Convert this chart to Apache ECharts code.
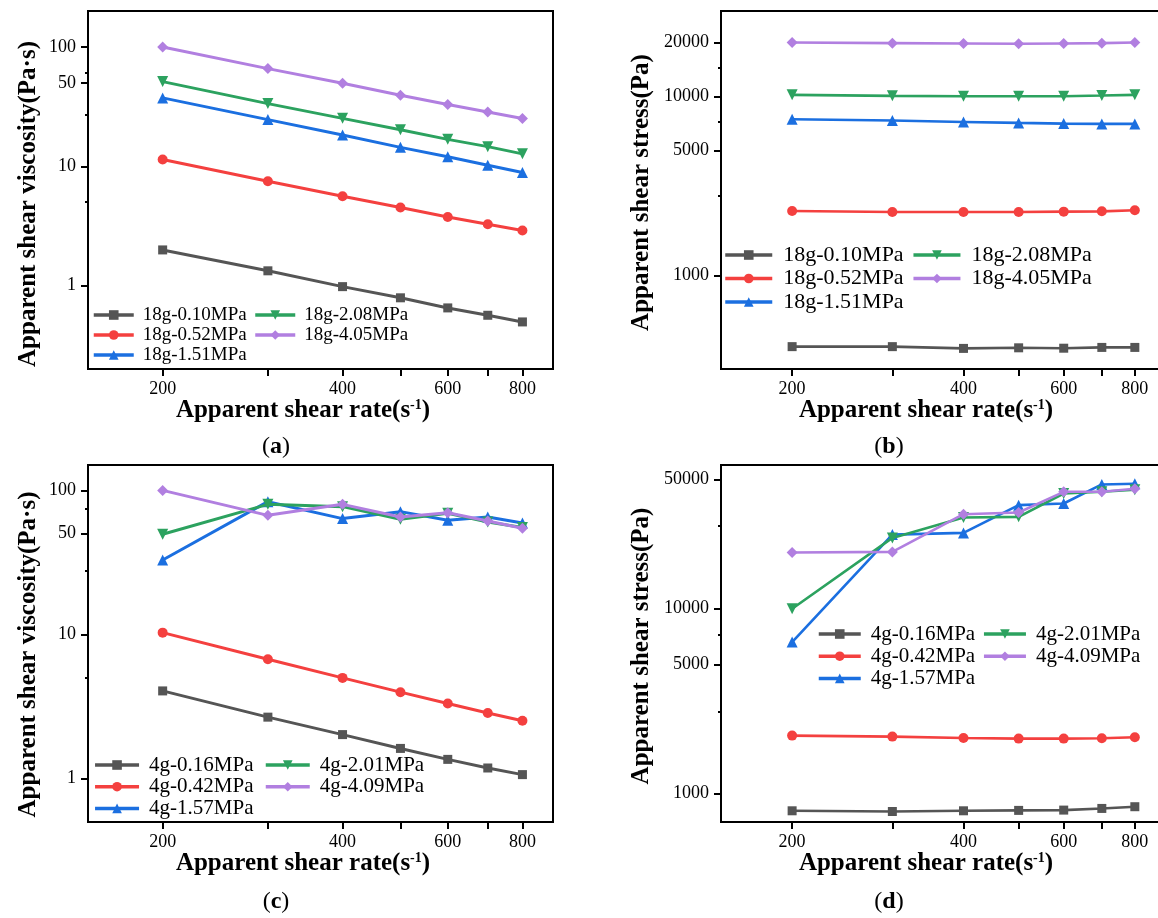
<!DOCTYPE html>
<html><head><meta charset="utf-8">
<script src="https://cdn.jsdelivr.net/npm/echarts@6/dist/echarts.min.js"></script>
<style>html,body{margin:0;padding:0;background:#fff}#c{width:1158px;height:918px}</style>
</head><body><div id="c"></div>
<script>
// ---------- data ----------
const shearRates = [200, 300, 400, 500, 600, 700, 800];
const xTickValues = [200, 300, 400, 500, 600, 700, 800];
const xLabelValues = [200, 400, 600, 800];

const namesA = ['18g-0.10MPa', '18g-0.52MPa', '18g-1.51MPa', '18g-2.08MPa', '18g-4.05MPa'];
const namesC = ['4g-0.16MPa', '4g-0.42MPa', '4g-1.57MPa', '4g-2.01MPa', '4g-4.09MPa'];

// (a) apparent shear viscosity, 18 g
const viscA_010 = [1.99, 1.33, 0.98, 0.79, 0.65, 0.564, 0.496];
const viscA_052 = [11.4, 7.48, 5.61, 4.51, 3.76, 3.27, 2.89];
const viscA_151 = [37.4, 24.6, 18.3, 14.4, 12.0, 10.2, 8.85];
const viscA_208 = [51.2, 33.5, 25.2, 20.2, 16.8, 14.6, 12.7];
const viscA_405 = [100, 65.8, 49.6, 39.3, 32.9, 28.5, 25.1];

// (b) apparent shear stress, 18 g
const stressB_010 = [400, 400, 391, 394, 392, 396, 396];
const stressB_052 = [2290, 2262, 2262, 2262, 2271, 2280, 2310];
const stressB_151 = [7460, 7330, 7200, 7110, 7050, 7020, 7020];
const stressB_208 = [10200, 10070, 10025, 10025, 10025, 10110, 10200];
const stressB_405 = [20000, 19840, 19760, 19670, 19760, 19840, 20000];

// (c) apparent shear viscosity, 4 g
const viscC_016 = [4.06, 2.67, 2.02, 1.62, 1.36, 1.185, 1.066];
const viscC_042 = [10.3, 6.73, 5.00, 3.98, 3.32, 2.85, 2.52];
const viscC_157 = [32.9, 83.5, 63.7, 71.2, 62.0, 65.4, 59.4];
const viscC_201 = [49.6, 80.0, 77.1, 63.0, 69.3, 60.4, 55.2];
const viscC_409 = [100, 67.1, 80.0, 65.4, 70.0, 61.3, 54.6];

// (d) apparent shear stress, 4 g
const stressD_016 = [805, 798, 805, 809, 812, 829, 847];
const stressD_042 = [2055, 2030, 1996, 1980, 1980, 1988, 2013];
const stressD_157 = [6597, 25200, 25730, 36360, 37120, 47080, 47470];
const stressD_201 = [10000, 24170, 31170, 31430, 42050, 42950, 44030];
const stressD_409 = [20140, 20300, 32500, 33170, 42950, 42950, 44590];

// tick labels
const yMajorA = [1, 10, 50, 100];
const yMinorA = [5, 27, 61];
const yMajorB = [1000, 5000, 10000, 20000];
const yMinorB = [2780, 7200, 14500];
const yMajorC = [1, 10, 50, 100];
const yMinorC = [5, 27.6, 74];
const yMajorD = [1000, 5000, 10000, 50000];
const yMinorD = [2770, 7250, 28000];

const xTitle = '{t|Apparent shear rate(s}{s|-1}{t|)}';
const yTitleVisc = 'Apparent shear viscosity(Pa·s)';
const yTitleStress = 'Apparent shear stress(Pa)';
const panelLetters = ['a', 'b', 'c', 'd'];

// ---------- styling ----------
const FONT = "'Liberation Serif', 'Times New Roman', serif";
const colors = ['#555555', '#f4403f', '#1b6fe0', '#2ca25f', '#b17fe0'];
const symbols = ['rect', 'circle', 'triangle', 'triangle', 'diamond'];
const rotates = [0, 0, 0, 180, 0];
const sizes = [9, 10, 11, 11, 11];

const panels = [
  { grid: {left: 88, top: 11, width: 465, height: 358}, xMin: 150, xMax: 900, lw: 3,
    yMin: 0.2, yMax: 200, major: yMajorA, minor: yMinorA, yName: yTitleVisc, yGap: 47, yShift: 28, xShift: 35,
    names: namesA, series: [viscA_010, viscA_052, viscA_151, viscA_208, viscA_405],
    lg: {left1: 92, left2: 253.5, c1: 315, step: 20, font: 19, iw: 40, pad: 4},
    label: {x: 276, y: 447} },
  { grid: {left: 721, top: 11, width: 469, height: 358}, xMin: 150, xMax: 1000, lw: 2.6,
    yMin: 300, yMax: 30000, major: yMajorB, minor: yMinorB, yName: yTitleStress, yGap: 67, yShift: 5, xShift: 59,
    names: namesA, series: [stressB_010, stressB_052, stressB_151, stressB_208, stressB_405],
    lg: {left1: 723.5, left2: 911.7, c1: 255, step: 23.5, font: 22, iw: 47, pad: 6},
    label: {x: 889, y: 447} },
  { grid: {left: 88, top: 465, width: 465, height: 357}, xMin: 150, xMax: 900, lw: 3,
    yMin: 0.5, yMax: 150, major: yMajorC, minor: yMinorC, yName: yTitleVisc, yGap: 47, yShift: 22, xShift: 35,
    names: namesC, series: [viscC_016, viscC_042, viscC_157, viscC_201, viscC_409],
    lg: {left1: 93.3, left2: 264, c1: 765, step: 21.7, font: 21, iw: 44, pad: 5},
    label: {x: 276, y: 902} },
  { grid: {left: 721, top: 465, width: 469, height: 357}, xMin: 150, xMax: 1000, lw: 2.6,
    yMin: 700, yMax: 60000, major: yMajorD, minor: yMinorD, yName: yTitleStress, yGap: 67, yShift: 5, xShift: 59,
    names: namesC, series: [stressD_016, stressD_042, stressD_157, stressD_201, stressD_409],
    lg: {left1: 817, left2: 982.2, c1: 634, step: 22.2, font: 21, iw: 42, pad: 5},
    label: {x: 889, y: 902} }
];

const option = {
  animation: false,
  backgroundColor: '#fff',
  grid: [], xAxis: [], yAxis: [], series: [], legend: [], graphic: []
};

panels.forEach((p, i) => {
  option.grid.push(Object.assign({show: true, borderColor: '#000', borderWidth: 2, backgroundColor: 'transparent',
    outerBoundsMode: 'none', containLabel: false}, p.grid));
  option.xAxis.push({
    type: 'log', gridIndex: i, min: p.xMin, max: p.xMax, logBase: 10,
    name: xTitle, nameLocation: 'middle', nameGap: 29, nameMoveOverlap: false,
    nameTextStyle: {color: '#000', padding: [0, p.xShift, 0, 0],
      rich: {t: {fontFamily: FONT, fontWeight: 'bold', fontSize: 25, color: '#000'},
             s: {fontFamily: FONT, fontWeight: 'bold', fontSize: 14, color: '#000', verticalAlign: 'top'}}},
    axisLine: {show: true, onZero: false, lineStyle: {color: '#000', width: 2}},
    axisTick: {show: true, inside: false, length: 7, customValues: xTickValues, lineStyle: {color: '#000', width: 2}},
    axisLabel: {show: true, customValues: xLabelValues, margin: 11, fontFamily: FONT, fontSize: 18, color: '#000',
      formatter: v => String(v)},
    splitLine: {show: false}, minorTick: {show: false}
  });
  option.yAxis.push({
    type: 'log', gridIndex: i, position: 'left', min: p.yMin, max: p.yMax, logBase: 10,
    name: p.yName, nameLocation: 'middle', nameGap: p.yGap, nameMoveOverlap: false,
    nameTextStyle: {fontFamily: FONT, fontWeight: 'bold', fontSize: 25, color: '#000', padding: [0, p.yShift, 0, 0]},
    axisLine: {show: true, onZero: false, lineStyle: {color: '#000', width: 2}},
    axisTick: {show: true, inside: false, length: 7, customValues: p.major, lineStyle: {color: '#000', width: 2}},
    axisLabel: {show: true, customValues: p.major, margin: 12, fontFamily: FONT, fontSize: 18, color: '#000',
      formatter: v => String(v)},
    splitLine: {show: false}
  });
  option.yAxis.push({
    type: 'log', gridIndex: i, position: 'left', offset: 0, min: p.yMin, max: p.yMax, logBase: 10,
    axisLine: {show: false},
    axisTick: {show: true, inside: false, length: 3, customValues: p.minor, lineStyle: {color: '#000', width: 2}},
    axisLabel: {show: false, customValues: p.minor},
    splitLine: {show: false}
  });
  p.series.forEach((vals, k) => {
    option.series.push({
      type: 'line', name: p.names[k], xAxisIndex: i, yAxisIndex: 2 * i,
      data: shearRates.map((x, j) => [x, vals[j]]),
      symbol: symbols[k], symbolSize: sizes[k], symbolRotate: rotates[k], showSymbol: true,
      lineStyle: {width: p.lw, color: colors[k]}, itemStyle: {color: colors[k]},
      emphasis: {disabled: true}, z: 2 + k
    });
  });
  const f = p.lg.font;
  const legendBase = {
    orient: 'vertical', top: p.lg.c1 - f / 2, padding: 0,
    itemGap: p.lg.step - f, itemWidth: p.lg.iw, itemHeight: 12,
    lineStyle: {width: 3.5},
    textStyle: {fontFamily: FONT, fontSize: f, color: '#000', padding: [0, 0, 0, p.lg.pad]},
    selectedMode: false
  };
  option.legend.push(Object.assign({}, legendBase, {left: p.lg.left1, data: p.names.slice(0, 3)}));
  option.legend.push(Object.assign({}, legendBase, {left: p.lg.left2, data: p.names.slice(3)}));
  option.graphic.push({
    type: 'text', x: p.label.x, y: p.label.y, silent: true,
    style: {text: '{p|(}{b|' + panelLetters[i] + '}{p|)}', align: 'center', verticalAlign: 'middle',
      rich: {p: {fontFamily: FONT, fontSize: 24, fill: '#000'},
             b: {fontFamily: FONT, fontSize: 24, fontWeight: 'bold', fill: '#000'}}}
  });
});

const chart = echarts.init(document.getElementById('c'), null, {renderer: 'canvas'});
chart.setOption(option);
</script>
</body></html>
